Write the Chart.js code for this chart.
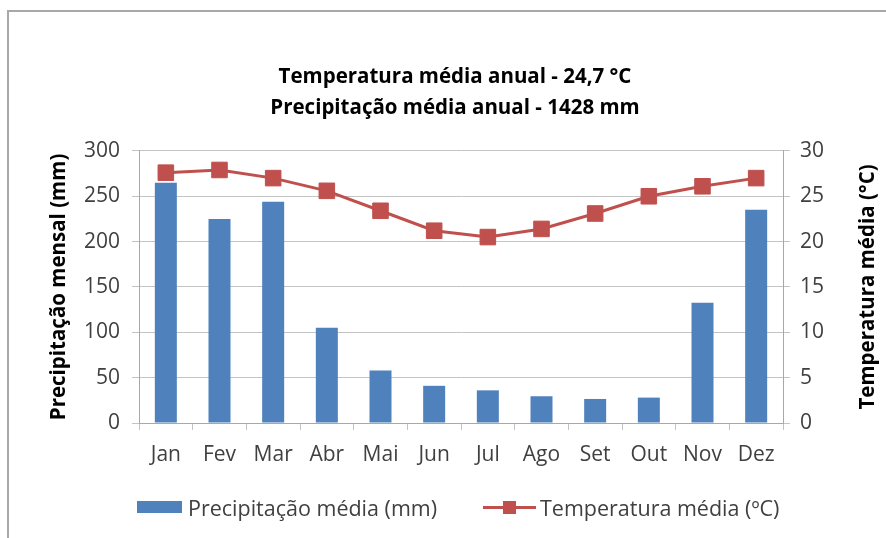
<!DOCTYPE html>
<html>
<head>
<meta charset="utf-8">
<script src="https://cdn.jsdelivr.net/npm/chart.js@4.4.1/dist/chart.umd.min.js"></script>
<style>
  html, body { margin: 0; padding: 0; background: #fff; width: 886px; height: 538px; overflow: hidden; font-family: "Open Sans", sans-serif; }
  #frame { position: absolute; left: 7px; top: 10px; width: 920px; height: 600px; border-left: 2px solid #a8a8a8; border-top: 2px solid #a8a8a8; }
  #wrap { position: absolute; left: 0; top: 0; width: 886px; height: 538px; }
  .leg { position: absolute; top: 494px; height: 26px; display: flex; align-items: center; font-size: 21.5px; color: #404040; white-space: nowrap; }
  .leg-bar { width: 45px; height: 12px; background: #4F81BD; margin-right: 6px; }
  .leg-line { position: relative; width: 53px; height: 3px; background: #C0504D; margin-right: 4px; }
  .leg-line::after { content: ''; position: absolute; left: 20px; top: -5px; width: 13px; height: 13px; background: #C0504D; }
</style>
</head>
<body>
<div id="frame"></div>
<div id="wrap"><canvas id="c" width="886" height="538"></canvas></div>
<div class="leg" style="left:137px"><span class="leg-bar"></span>Precipitação média (mm)</div>
<div class="leg" style="left:483px"><span class="leg-line"></span>Temperatura média (ºC)</div>
<script>
// ── Data ──────────────────────────────────────────────────────────────────────
const MONTHS = ['Jan','Fev','Mar','Abr','Mai','Jun','Jul','Ago','Set','Out','Nov','Dez'];
const PRECIP = [265, 225, 244, 105, 58, 41, 36, 29.5, 26.5, 28, 132.5, 235];
const TEMP   = [27.6, 27.9, 27.0, 25.6, 23.4, 21.2, 20.5, 21.4, 23.1, 25.0, 26.1, 27.0];
const PRECIP_AXIS = { min: 0, max: 300, step: 50 };
const TEMP_AXIS   = { min: 0, max: 30,  step: 5 };
const TITLE = ['Temperatura média anual - 24,7 °C', 'Precipitação média anual - 1428 mm'];
const Y_TITLE  = 'Precipitação mensal (mm)';
const Y1_TITLE = 'Temperatura média (°C)';

const FONT = '"Open Sans"';
const TICK_COL = '#404040', GRID_COL = '#c4c4c4';

// right axis title reads bottom-to-top in the original, so draw it ourselves
const rightTitle = {
  id: 'rightTitle',
  afterDraw(chart) {
    const { ctx, chartArea } = chart;
    ctx.save();
    ctx.translate(868, (chartArea.top + chartArea.bottom) / 2);
    ctx.rotate(-Math.PI / 2);
    ctx.font = `bold 20.5px ${FONT}`;
    ctx.fillStyle = '#000';
    ctx.textAlign = 'center';
    ctx.textBaseline = 'middle';
    ctx.fillText(Y1_TITLE, 0, 0);
    ctx.restore();
  }
};

new Chart(document.getElementById('c'), {
  data: {
    labels: MONTHS,
    datasets: [
      { type: 'line', label: 'Temperatura média (ºC)', data: TEMP, yAxisID: 'y1', order: 0,
        borderColor: '#C0504D', borderWidth: 3, tension: 0,
        pointStyle: 'rect', pointRadius: 11, pointBackgroundColor: '#C0504D', pointBorderColor: '#C0504D', pointBorderWidth: 1 },
      { type: 'bar', label: 'Precipitação média (mm)', data: PRECIP, yAxisID: 'y', order: 1,
        backgroundColor: '#4F81BD', barPercentage: 0.41, categoryPercentage: 1.0 },
    ],
  },
  options: {
    responsive: false,
    animation: false,
    layout: { padding: { left: 24, right: 0, top: 0, bottom: 68 } },
    plugins: {
      legend: { display: false },
      tooltip: { enabled: false },
      title: { display: true, text: TITLE, color: '#000',
        font: { family: FONT, size: 20.5, weight: 'bold', lineHeight: 1.51 },
        padding: { top: 62, bottom: 27 } },
    },
    scales: {
      x: {
        grid: { drawOnChartArea: false, tickLength: 7, color: GRID_COL },
        border: { color: '#a8a8a8' },
        ticks: { color: TICK_COL, font: { family: FONT, size: 21 }, padding: 12 },
        afterFit: s => { s.height = 47; },
      },
      y: {
        position: 'left', min: PRECIP_AXIS.min, max: PRECIP_AXIS.max,
        grid: { color: GRID_COL, tickLength: 7 },
        border: { color: '#a8a8a8' },
        ticks: { stepSize: PRECIP_AXIS.step, color: TICK_COL, font: { family: FONT, size: 21 }, padding: 12 },
        title: { display: true, text: Y_TITLE, color: '#000', font: { family: FONT, size: 20.5, weight: 'bold' }, padding: { top: 23 } },
        afterFit: s => { s.width = 115; },
      },
      y1: {
        position: 'right', min: TEMP_AXIS.min, max: TEMP_AXIS.max,
        grid: { drawOnChartArea: false, color: GRID_COL, tickLength: 7 },
        border: { color: '#a8a8a8' },
        ticks: { stepSize: TEMP_AXIS.step, color: TICK_COL, font: { family: FONT, size: 21 }, padding: 10 },
        afterFit: s => { s.width = 103; },
      },
    },
  },
  plugins: [rightTitle],
});
</script>
</body>
</html>
